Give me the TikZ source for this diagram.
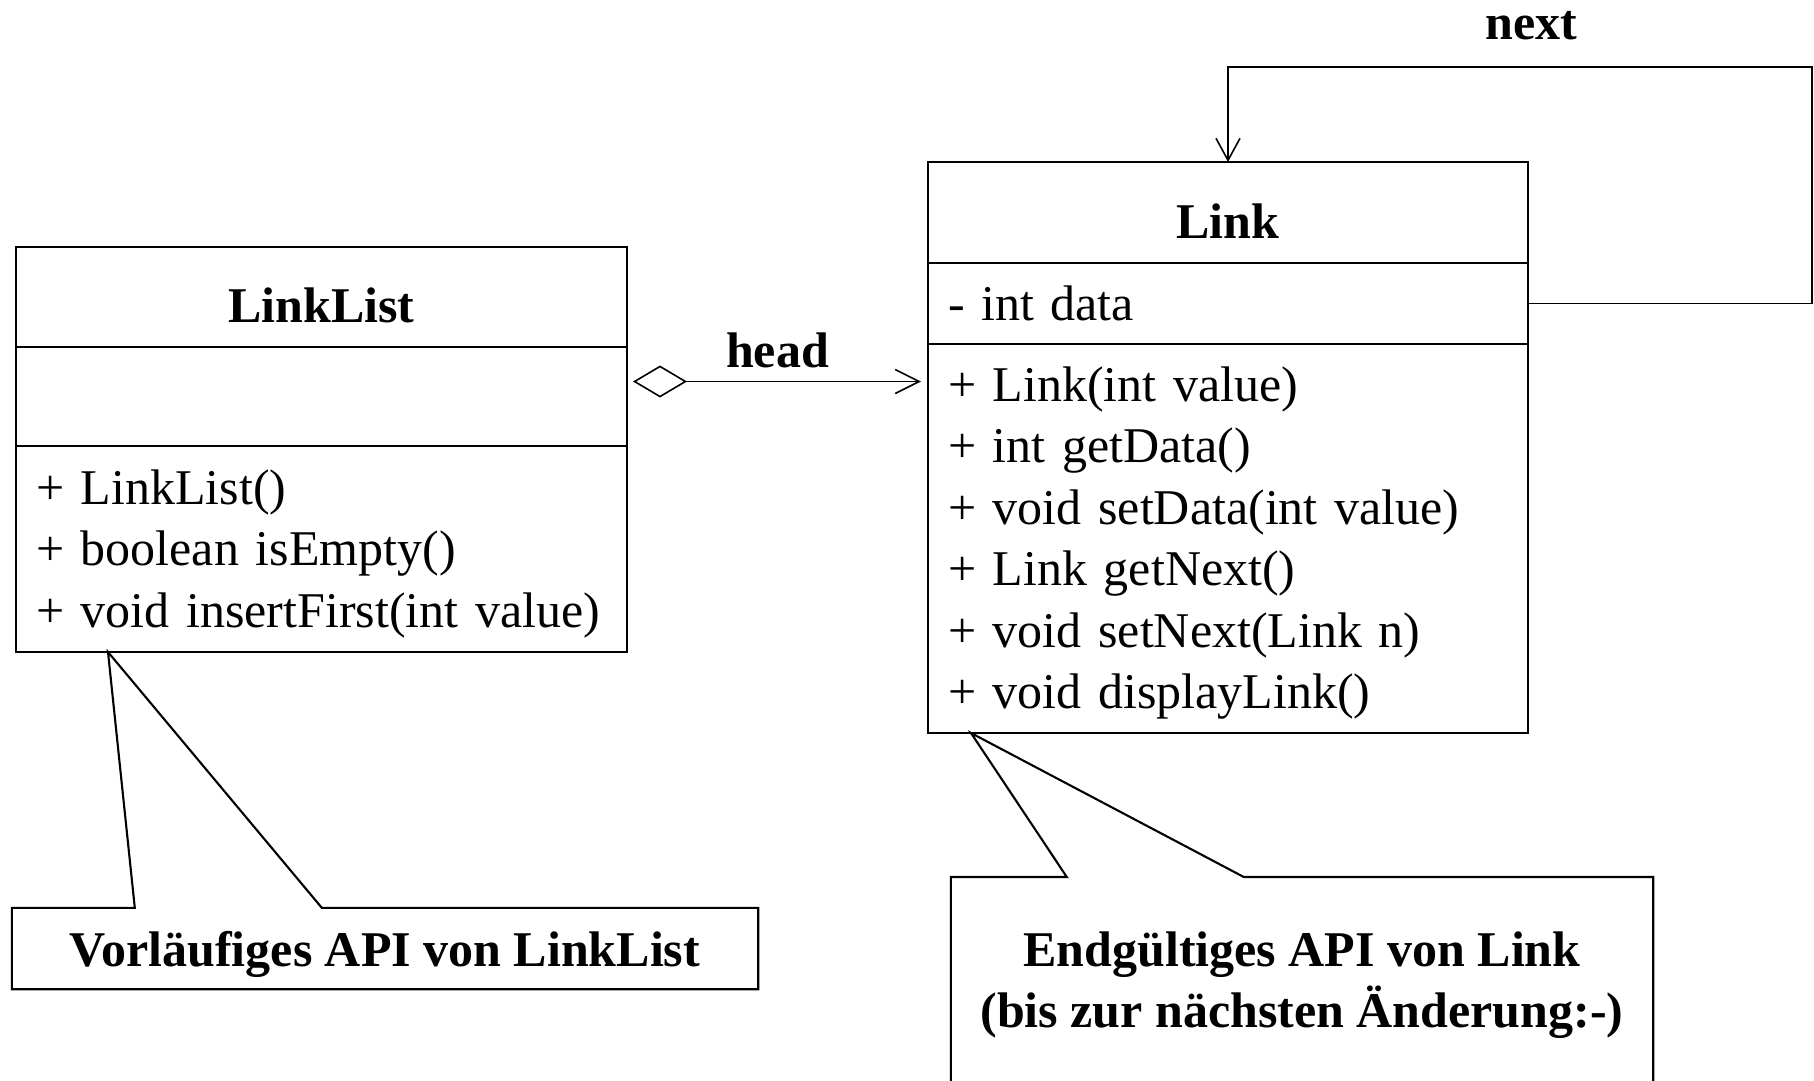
\documentclass[tikz,border=0pt]{standalone}
\usepackage{fontspec}
\setmainfont{Liberation Serif}
\usetikzlibrary{positioning,arrows.meta}
\newcommand{\umlfont}{\fontsize{50}{61.5}\selectfont}

\begin{document}
\begin{tikzpicture}[x=1pt, y=-1pt, font=\umlfont,
                    fach/.style={draw, line width=2.1pt, outer sep=0pt, inner xsep=20pt, inner ysep=0pt, align=left},
                    methoden/.style={fach, text height=44pt},
                    kopf/.style={fach, align=center, text height=51pt, text depth=0pt, font=\umlfont\bfseries},
                    notiz/.style={inner sep=0pt, align=center, text depth=0pt, font=\umlfont\bfseries},
                    notizrand/.style={draw, line width=2.1pt, line join=miter},
                    verbindung/.style={draw, line width=1.6pt}]
                    \useasboundingbox (0,0) rectangle (1814,1080);

                    \coordinate (LL) at (321.5,297);
                    \coordinate (LK) at (1228,212.5);
                    \coordinate (schleife) at (1812,67);

                    \node[kopf, minimum width=611pt, minimum height=100pt] (ll-kopf) at (LL) {LinkList};
                    \node[fach, text width=571pt, minimum height=99pt, below=0pt of ll-kopf] (ll-attr) {};
                    \node[methoden, text width=571pt, minimum height=206pt, below=0pt of ll-attr] (ll-meth)
                        {+ LinkList()\\+ boolean isEmpty()\\+ void insertFirst(int value)};

                    \node[kopf, minimum width=600pt, minimum height=101pt] (lk-kopf) at (LK) {Link};
                    \node[fach, text width=560pt, minimum height=81pt, below=0pt of lk-kopf] (lk-attr) {- int data};
                    \node[methoden, text width=560pt, minimum height=389pt, below=0pt of lk-attr] (lk-meth)
                        {+ Link(int value)\\+ int getData()\\+ void setData(int value)\\+ Link getNext()\\+ void setNext(Link n)\\+ void displayLink()};

                    \node[notiz, minimum width=746pt, minimum height=81pt] (n1) at (385,948.5) {Vorläufiges API von LinkList};
                    \node[notiz, minimum width=702pt, minimum height=205pt, anchor=north] (n2) at (1302,877)
                        {Endgültiges API von Link\\(bis zur nächsten Änderung:-)};

                    \coordinate (kopfstart) at ([yshift=15pt]ll-attr.east);

                    \draw[verbindung, {Diamond[open, length=54pt, width=32pt]}-{Straight Barb[length=24pt, width=24pt]}, shorten <=6pt, shorten >=7pt]
                        (kopfstart) -- node[above, inner sep=13pt] {\textbf{head}} (kopfstart -| lk-meth.west);
                    \draw[verbindung, -{Straight Barb[length=22pt, width=24pt]}]
                        (lk-attr.east) -| (schleife) -- node[above=23pt, pos=0.48] {\textbf{next}} (schleife -| lk-kopf.north) -- (lk-kopf.north);

                    \draw[notizrand] (n1.north west) -- ([xshift=123pt]n1.north west) -- ([xshift=92pt]ll-meth.south west)
                        -- ([xshift=310pt]n1.north west) -- (n1.north east) -- (n1.south east) -- (n1.south west) -- cycle;
                    \draw[notizrand] (n2.south west) -- (n2.north west) -- ([xshift=116pt]n2.north west) -- ([xshift=43pt]lk-meth.south west)
                        -- ([xshift=293pt]n2.north west) -- (n2.north east) -- (n2.south east);
                \end{tikzpicture}
\end{document}
